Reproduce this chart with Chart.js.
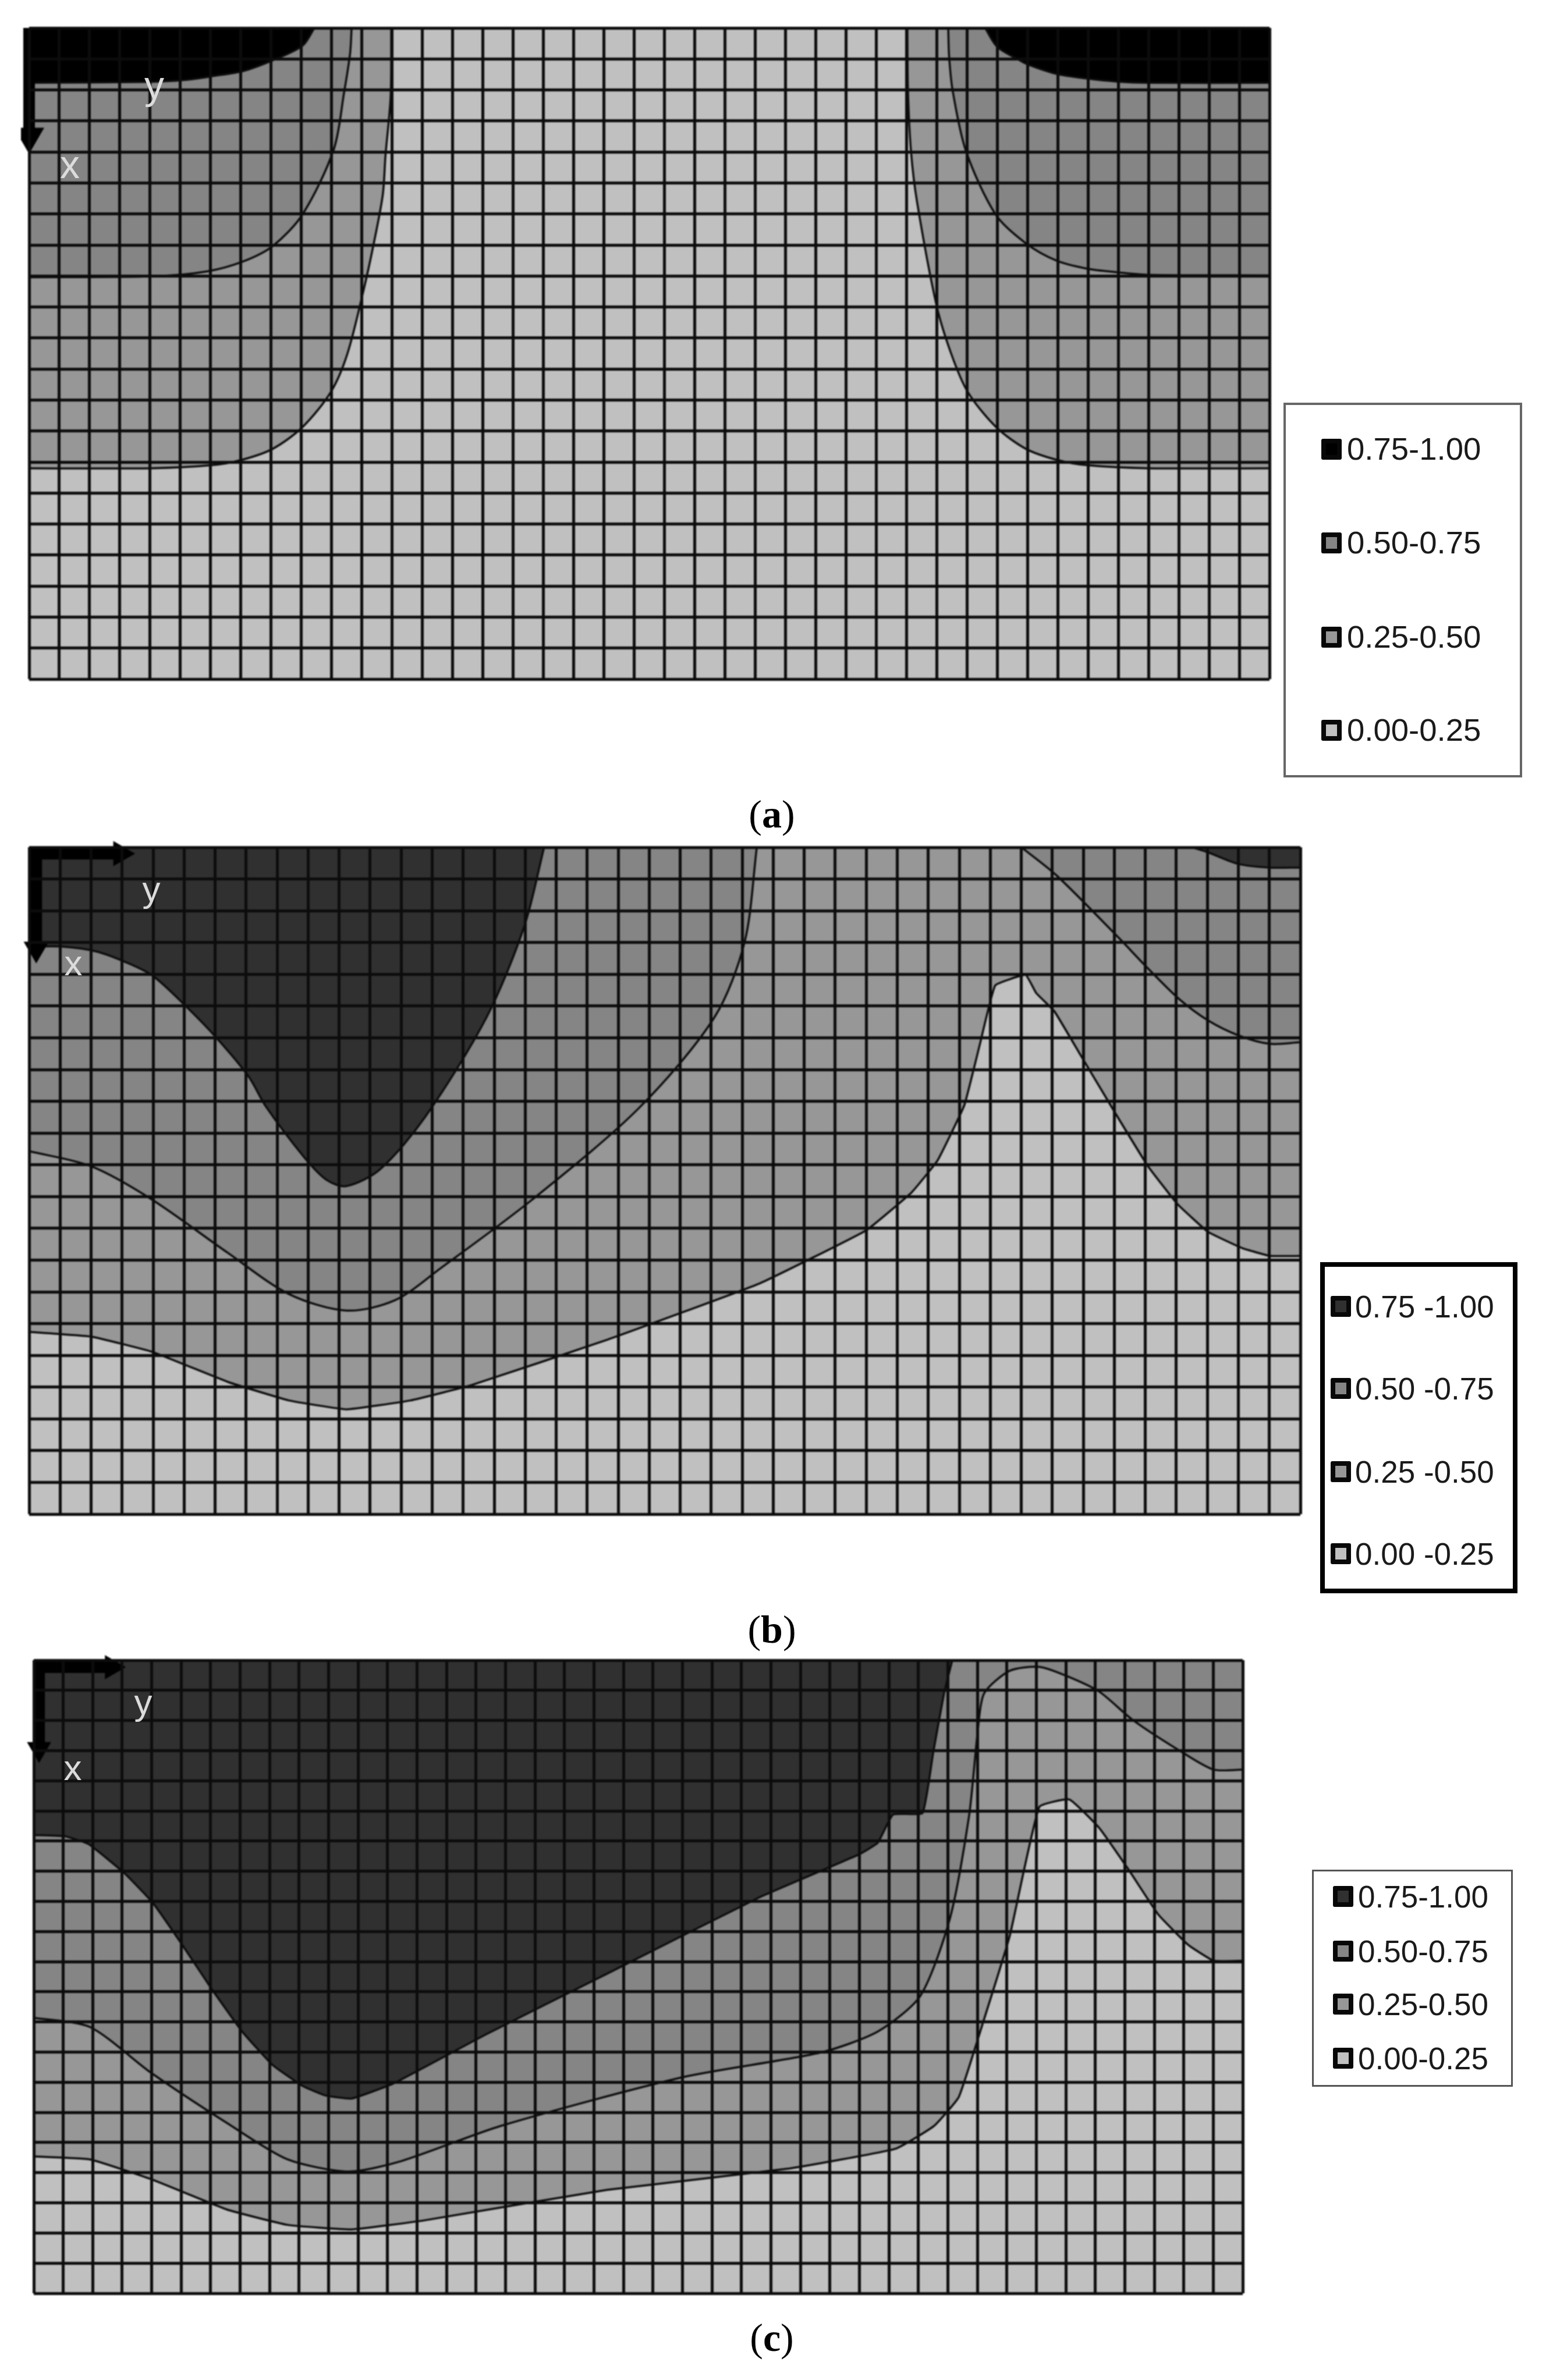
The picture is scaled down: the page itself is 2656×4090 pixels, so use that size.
<!DOCTYPE html>
<html>
<head>
<meta charset="utf-8">
<title>Contour panels</title>
<script src="https://cdn.jsdelivr.net/npm/chart.js@4"></script>
<style>
  html, body { margin: 0; padding: 0; background: #fff; }
  #page { position: relative; width: 2656px; height: 4090px; overflow: hidden; font-family: "Liberation Sans", sans-serif; }
  canvas { position: absolute; filter: blur(0.9px); }
  .axisLabel { position: absolute; color: #dcdcdc; transform: translate(-50%, -50%); line-height: 1; }
  .caption { position: absolute; font-family: "Liberation Serif", serif; font-size: 68px; color: #000; transform: translate(-50%, -50%); line-height: 1; }
  .caption b { font-weight: bold; }
  .legendBox { position: absolute; background: #fff; box-sizing: border-box; }
  .swatch { position: absolute; box-sizing: border-box; border-style: solid; border-color: #080808; border-radius: 3px; }
  .legendText { position: absolute; color: #1a1a1a; line-height: 1; transform: translateY(-50%); white-space: pre; filter: blur(0.5px); }
</style>
</head>
<body>
<div id="page"></div>
<script>
// grid size of every panel, in cells
var numCols = 41;
var numRows = 21;

// contour lines as [column, row]
var aDarkLeft = [[0,1.77],[3.94,1.74],[5.12,1.68],[6.1,1.55],[7.08,1.39],[8.06,1.04],[9.04,0.57],[9.43,0]];
var aMidLeft = [[0,8.04],[4.14,8.01],[5.9,7.85],[7.08,7.53],[8.06,7.03],[9.04,6.01],[10.07,3.92],[10.41,2.09],[10.61,0.82],[10.66,0]];
var aLowLeft = [[0,14.2],[4.03,14.2],[6.05,14.1],[7.03,13.93],[8.06,13.57],[9.05,12.86],[9.98,11.73],[10.52,10.51],[11.05,8.48],[11.39,6.96],[11.69,5.38],[11.78,4.11],[11.95,2.22],[11.97,0]];
var aDarkRight = [[31.6,0],[32,0.61],[32.7,1.02],[32.99,1.17],[33.95,1.48],[34.95,1.63],[35.96,1.73],[36.97,1.77],[41,1.77]];
var aMidRight = [[30.38,0],[30.41,0.92],[30.53,2.04],[30.97,3.98],[31.95,6.02],[32.94,6.94],[33.95,7.5],[34.95,7.76],[35.96,7.88],[36.97,7.96],[41,7.98]];
var aLowRight = [[29.03,0],[29.05,2.04],[29.15,3.98],[29.35,5.61],[29.99,8.93],[30.48,10.51],[31.02,11.73],[31.95,12.86],[32.94,13.57],[33.97,13.93],[34.95,14.1],[36.97,14.2],[41,14.2]];

var bDarkLeft = [[0,3.13],[1.08,3.13],[2.16,3.28],[3.12,3.62],[3.99,4.05],[5.05,5],[6.06,6.02],[7.08,7.22],[7.64,8.17],[8.87,9.76],[9.6,10.48],[10.24,10.67],[11.32,10.14],[12.79,8.47],[14.75,5.36],[15.97,2.49],[16.61,0]];
var bMidLeft = [[0,9.57],[2.01,10.05],[3.97,11.1],[6.42,12.78],[8.38,14.07],[10.24,14.59],[11.81,14.26],[13.28,13.25],[16.22,11.1],[19.65,8.23],[22.1,5.36],[23.08,2.97],[23.47,0]];
var bMidRight = [[32,0],[33.15,0.9],[35.15,2.86],[36.08,3.81],[37.08,4.77],[38.02,5.45],[39.02,5.93],[40.01,6.19],[41,6.14]];
var bDarkRight = [[37.5,0],[38.02,0.16],[39.02,0.53],[40.01,0.64],[41,0.64]];
var bLow = [[0,15.26],[2.01,15.41],[3.97,15.89],[6.42,16.84],[8.38,17.42],[10.24,17.7],[12.3,17.42],[14.26,16.94],[18.67,15.5],[23.57,13.73],[27,12.06],[28.47,10.86],[29.3,9.86],[30.16,8.13],[30.66,6.22],[31.16,4.35],[32.14,4.02],[32.48,4.59],[33.07,5.17],[33.86,6.46],[35.03,8.37],[36.09,10.05],[37.04,11.24],[38.02,12.11],[39.14,12.63],[40.03,12.87],[41,12.87]];

var cDark = [[0,5.8],[1.05,5.84],[1.86,6.1],[3.08,7.07],[4.04,8.05],[5,9.39],[6.03,10.9],[7.07,12.32],[8.1,13.43],[9.13,14.13],[9.9,14.44],[10.78,14.54],[12.22,14.03],[15.32,12.42],[19.44,10.4],[24.6,7.87],[27.95,6.46],[28.62,6.06],[29.14,5.12],[30.14,5.07],[30.5,3.08],[30.87,1.1],[31.15,0]];
var cMid = [[0,11.86],[1.91,12.17],[3.97,13.68],[6.55,15.35],[8.61,16.56],[10.68,16.96],[12.48,16.61],[15.83,15.45],[22.02,13.83],[26.66,13.02],[28.62,12.32],[30.07,11.13],[31.08,8.53],[31.72,5.16],[32.02,2.29],[32.23,1.1],[33.1,0.35],[34.1,0.22],[34.97,0.5],[36.13,1.04],[37.28,1.99],[38.99,3.08],[40.02,3.63],[41,3.63]];
var cLow = [[0,16.46],[1.91,16.56],[3.97,17.21],[6.55,18.22],[8.61,18.73],[10.78,18.88],[13.25,18.58],[19.44,17.57],[25.63,16.86],[29.24,16.2],[30.53,15.45],[31.37,14.49],[32.16,12.12],[33.1,9.14],[34.1,4.87],[35.12,4.62],[36.13,5.56],[37.13,6.95],[38.14,8.44],[39.15,9.44],[40.02,9.97],[41,9.97]];

var bottomEdge = [[0,21],[41,21]];

// the x and y arrows in the corner
var aArrowDown = [[0,0],[0,3.5]];
var bArrowDown = [[0.23,0],[0.23,3.2]];
var bArrowRight = [[0,0.2],[2.95,0.2]];
var cArrowDown = [[0.18,0],[0.18,2.95]];
var cArrowRight = [[0,0.23],[2.65,0.23]];

// legend
var legendLabelsA = ['0.75-1.00', '0.50-0.75', '0.25-0.50', '0.00-0.25'];
var legendLabelsB = ['0.75 -1.00', '0.50 -0.75', '0.25 -0.50', '0.00 -0.25'];
var legendLabelsC = ['0.75-1.00', '0.50-0.75', '0.25-0.50', '0.00-0.25'];

// greys
var black = '#000000';
var darkGrey = '#303030';
var midGrey = '#858585';
var lowGrey = '#979797';
var lightGrey = '#c0c0c0';
var lineColor = '#0c0c0c';

var pad = 14;
var page = document.getElementById('page');

function toPoints(list) {
  return list.map(function (p) { return { x: p[0], y: p[1] }; });
}

// a contour, filled up to the top edge of the panel
function zone(list, color, tension) {
  return {
    data: toPoints(list),
    showLine: true,
    pointRadius: 0,
    tension: tension === undefined ? 0.3 : tension,
    borderColor: lineColor,
    borderWidth: 3.5,
    backgroundColor: color,
    fill: { value: 0 }
  };
}

function arrow(list, rotation, headSize) {
  return {
    data: toPoints(list),
    showLine: true,
    clip: false,
    borderColor: black,
    borderWidth: 20,
    borderCapStyle: 'butt',
    pointStyle: 'triangle',
    pointRotation: rotation,
    pointRadius: [0, headSize],
    pointBackgroundColor: black,
    pointBorderWidth: 0,
    fill: false
  };
}

function drawPanel(box, datasets) {
  var canvas = document.createElement('canvas');
  var w = box.right - box.left;
  var h = box.bottom - box.top;
  canvas.style.left = (box.left - pad) + 'px';
  canvas.style.top = (box.top - pad) + 'px';
  canvas.width = w + pad * 2;
  canvas.height = h + pad * 2;
  page.appendChild(canvas);

  var gridOpts = { color: lineColor, lineWidth: 5, drawTicks: false, z: 1 };
  return new Chart(canvas, {
    type: 'scatter',
    data: { datasets: datasets },
    options: {
      responsive: false,
      animation: false,
      devicePixelRatio: 1,
      // arrow heads would otherwise push the plot area inwards
      layout: { autoPadding: false, padding: pad },
      plugins: { legend: { display: false }, tooltip: { enabled: false } },
      scales: {
        x: {
          type: 'linear', min: 0, max: numCols,
          grid: gridOpts, border: { display: false },
          ticks: { display: false, stepSize: 1, autoSkip: false }
        },
        y: {
          type: 'linear', min: 0, max: numRows, reverse: true,
          grid: gridOpts, border: { display: false },
          ticks: { display: false, stepSize: 1, autoSkip: false }
        }
      }
    }
  });
}

function addLetter(text, x, y, size) {
  var el = document.createElement('div');
  el.className = 'axisLabel';
  el.textContent = text;
  el.style.left = x + 'px';
  el.style.top = y + 'px';
  el.style.fontSize = size + 'px';
  page.appendChild(el);
}

function addCaption(letter, x, y) {
  var el = document.createElement('div');
  el.className = 'caption';
  el.innerHTML = '(<b>' + letter + '</b>)';
  el.style.left = x + 'px';
  el.style.top = y + 'px';
  page.appendChild(el);
}

function addLegend(opts) {
  var box = document.createElement('div');
  box.className = 'legendBox';
  box.style.left = opts.left + 'px';
  box.style.top = opts.top + 'px';
  box.style.width = (opts.right - opts.left) + 'px';
  box.style.height = (opts.bottom - opts.top) + 'px';
  box.style.border = opts.border;
  page.appendChild(box);

  opts.labels.forEach(function (label, i) {
    var sw = document.createElement('div');
    sw.className = 'swatch';
    sw.style.left = opts.swatchX + 'px';
    sw.style.top = (opts.rows[i] - 18) + 'px';
    sw.style.width = '35px';
    sw.style.height = '36px';
    sw.style.borderWidth = '8px';
    sw.style.background = opts.colors[i];
    page.appendChild(sw);

    var text = document.createElement('div');
    text.className = 'legendText';
    text.textContent = label;
    text.style.left = opts.textX + 'px';
    text.style.top = opts.rows[i] + 'px';
    text.style.fontSize = opts.fontSize + 'px';
    page.appendChild(text);
  });
}

// first dataset ends up on top
drawPanel({ left: 50, top: 48, right: 2181, bottom: 1167 }, [
  arrow(aArrowDown, 180, 30),
  zone(aDarkLeft, black),
  zone(aDarkRight, black),
  zone(aMidLeft, midGrey),
  zone(aMidRight, midGrey),
  zone(aLowLeft, lowGrey),
  zone(aLowRight, lowGrey),
  zone(bottomEdge, lightGrey, 0)
]);

drawPanel({ left: 50, top: 1456, right: 2234, bottom: 2602 }, [
  arrow(bArrowDown, 180, 25),
  arrow(bArrowRight, 90, 25),
  zone(bDarkLeft, darkGrey),
  zone(bDarkRight, darkGrey),
  zone(bMidLeft, midGrey),
  zone(bMidRight, midGrey),
  zone(bLow, lowGrey, 0.1),
  zone(bottomEdge, lightGrey, 0)
]);

drawPanel({ left: 58, top: 2853, right: 2135, bottom: 3941 }, [
  arrow(cArrowDown, 180, 24),
  arrow(cArrowRight, 90, 24),
  zone(cDark, darkGrey, 0.12),
  zone(cMid, midGrey, 0.25),
  zone(cLow, lowGrey, 0.12),
  zone(bottomEdge, lightGrey, 0)
]);

addLetter('y', 265, 146, 68);
addLetter('x', 120, 282, 68);
addLetter('y', 260, 1528, 62);
addLetter('x', 126, 1655, 62);
addLetter('y', 246, 2925, 62);
addLetter('x', 125, 3038, 62);

addCaption('a', 1326, 1399);
addCaption('b', 1326, 2800);
addCaption('c', 1326, 4017);

addLegend({
  left: 2205, top: 692, right: 2615, bottom: 1336, border: '4px solid #666',
  swatchX: 2270, textX: 2314, fontSize: 54.5,
  rows: [772, 933, 1095, 1255],
  labels: legendLabelsA,
  colors: [black, midGrey, lowGrey, lightGrey]
});
addLegend({
  left: 2268, top: 2169, right: 2607, bottom: 2738, border: '8px solid #000',
  swatchX: 2286, textX: 2328, fontSize: 53,
  rows: [2245, 2386, 2529, 2670],
  labels: legendLabelsB,
  colors: [darkGrey, midGrey, lowGrey, lightGrey]
});
addLegend({
  left: 2254, top: 3213, right: 2599, bottom: 3586, border: '3px solid #555',
  swatchX: 2290, textX: 2333, fontSize: 53,
  rows: [3259, 3353, 3444, 3537],
  labels: legendLabelsC,
  colors: [darkGrey, midGrey, lowGrey, lightGrey]
});
</script>
</body>
</html>
